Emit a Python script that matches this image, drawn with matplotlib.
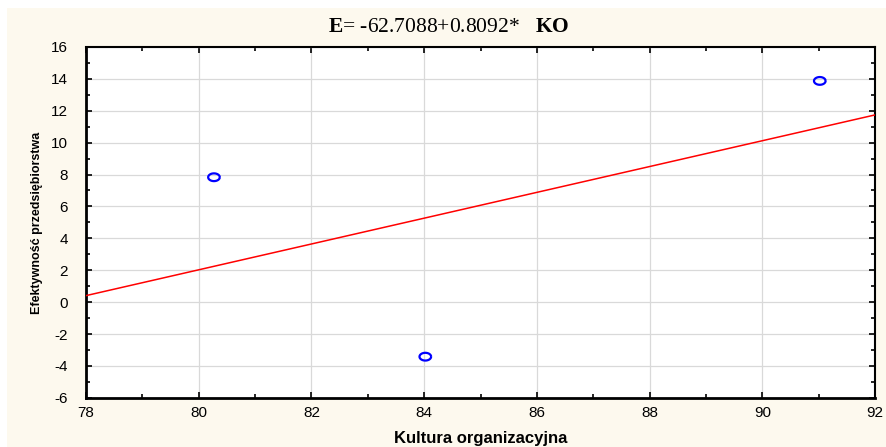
import numpy as np
import matplotlib
matplotlib.use("Agg")
import matplotlib.pyplot as plt
from matplotlib.patches import Rectangle
from matplotlib.path import Path

# data
ko = [80.27, 84.02, 91.02]
eff = [7.83, -3.42, 13.87]
b0 = -62.7088
b1 = 0.8092

x_ticks = [78, 80, 82, 84, 86, 88, 90, 92]
y_ticks = [-6, -4, -2, 0, 2, 4, 6, 8, 10, 12, 14, 16]

plt.rcParams['mathtext.fontset'] = 'custom'
plt.rcParams['mathtext.rm'] = 'Liberation Serif'
plt.rcParams['mathtext.bf'] = 'Liberation Serif:bold'
plt.rcParams['axes.unicode_minus'] = False

fig = plt.figure(figsize=(8.87, 4.47), dpi=100, facecolor='white')
# cream panel behind everything
fig.patches.append(Rectangle((7 / 887, 0), 1, 1 - 8 / 447, transform=fig.transFigure,
                             facecolor='#fdf9ee', edgecolor='none', zorder=-10))

ax = fig.add_axes([0.097, 0.110, 0.8895, 0.785])
ax.set_facecolor('white')

xs = np.array([78, 92])
ax.plot(xs, b0 + b1 * xs, color='#ff0000', lw=1.1, zorder=3)

# wide ellipse marker like the stretched original
t = np.linspace(0, 2 * np.pi, 40)
ell = Path(np.column_stack([1.5 * np.cos(t), np.sin(t)]))
ax.scatter(ko, eff, marker=ell, s=70, facecolors='none', edgecolors='#0000ff',
           linewidths=1.6, zorder=4)

ax.set_xlim(78, 92)
ax.set_ylim(-6, 16)
ax.set_xticks(x_ticks)
ax.set_yticks(y_ticks)
ax.set_xticks(np.arange(79, 92, 2), minor=True)
ax.set_yticks(np.arange(-5, 16, 2), minor=True)
ax.grid(True, which='major', color='#d9d9d9', lw=0.9)
ax.set_axisbelow(True)

ax.tick_params(which='both', direction='in', top=True, right=True, width=1.2,
               labelsize=11)
ax.tick_params(axis='x', which='major', pad=6)
ax.tick_params(axis='y', which='major', pad=13)
ax.tick_params(which='major', length=4)
ax.tick_params(which='minor', length=3)
for lab in ax.get_xticklabels() + ax.get_yticklabels():
    lab.set_fontfamily('Liberation Sans')
for side in ['left', 'bottom']:
    ax.spines[side].set_linewidth(2.0)
for side in ['top', 'right']:
    ax.spines[side].set_linewidth(1.5)

ax.set_xlabel('Kultura organizacyjna', fontfamily='Liberation Sans', fontweight='bold',
              fontsize=12, labelpad=8)
ax.set_ylabel('Efektywność przedsiębiorstwa', fontfamily='Liberation Sans',
              fontweight='bold', fontsize=9, labelpad=6)

fig.text(0.506, 1 - 28 / 447, r'$\mathbf{E}$= -62.7088+0.8092*   $\mathbf{KO}$',
         fontfamily='Liberation Serif', fontsize=15.5, ha='center', va='center')

fig.savefig('out.png', dpi=100, facecolor=fig.get_facecolor())
